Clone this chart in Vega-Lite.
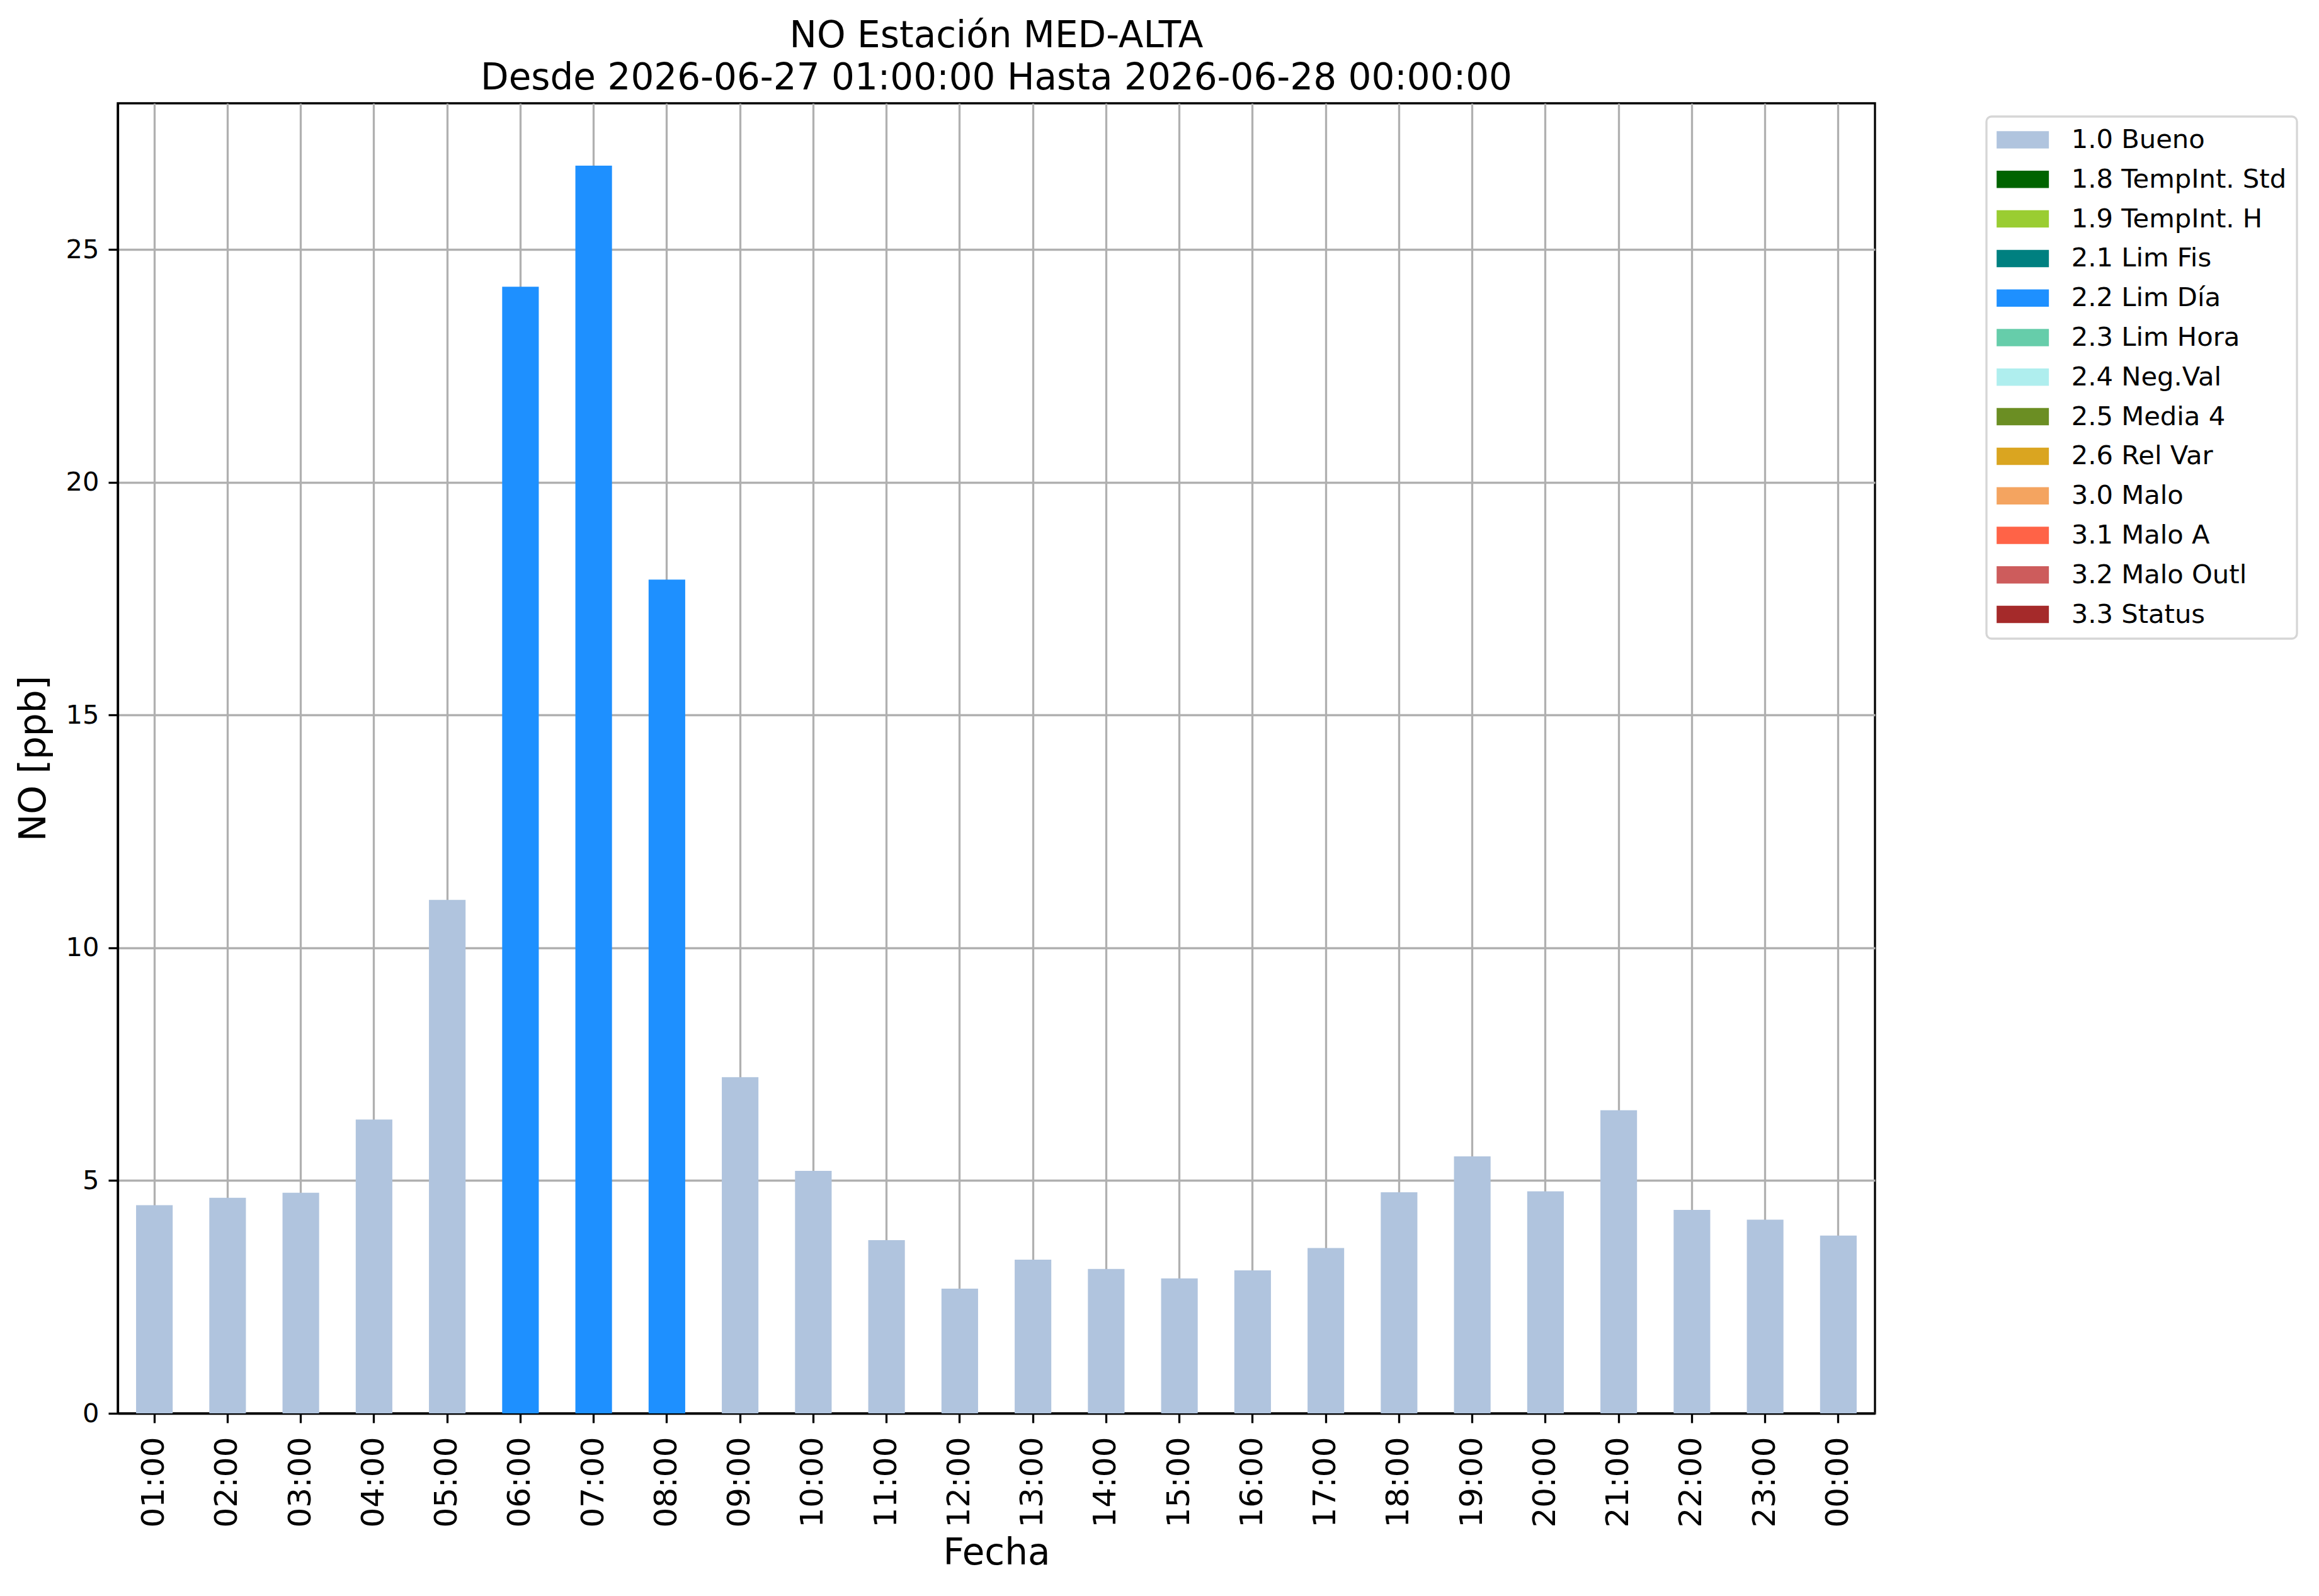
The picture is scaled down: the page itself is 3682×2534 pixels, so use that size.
{
  "$schema": "https://vega.github.io/schema/vega-lite/v6.json",
  "description": "NO Estación MED-ALTA, barras horarias coloreadas por calidad del dato.",
  "width": 2790,
  "height": 2080,
  "autosize": {"type": "none"},
  "padding": {"left": 187, "top": 164, "right": 705, "bottom": 290},
  "background": "white",
  "title": {
    "text": ["NO Estación MED-ALTA", "Desde 2026-06-27 01:00:00 Hasta 2026-06-28 00:00:00"],
    "fontSize": 58,
    "fontWeight": "normal",
    "font": "DejaVu Sans",
    "color": "black",
    "anchor": "middle",
    "lineHeight": 67,
    "offset": 10
  },
  "data": {
    "values": [
      {"Hora": "01:00", "NO": 4.47, "Calidad": "1.0 Bueno"},
      {"Hora": "02:00", "NO": 4.63, "Calidad": "1.0 Bueno"},
      {"Hora": "03:00", "NO": 4.74, "Calidad": "1.0 Bueno"},
      {"Hora": "04:00", "NO": 6.31, "Calidad": "1.0 Bueno"},
      {"Hora": "05:00", "NO": 11.03, "Calidad": "1.0 Bueno"},
      {"Hora": "06:00", "NO": 24.2, "Calidad": "2.2 Lim Día"},
      {"Hora": "07:00", "NO": 26.8, "Calidad": "2.2 Lim Día"},
      {"Hora": "08:00", "NO": 17.91, "Calidad": "2.2 Lim Día"},
      {"Hora": "09:00", "NO": 7.22, "Calidad": "1.0 Bueno"},
      {"Hora": "10:00", "NO": 5.21, "Calidad": "1.0 Bueno"},
      {"Hora": "11:00", "NO": 3.72, "Calidad": "1.0 Bueno"},
      {"Hora": "12:00", "NO": 2.68, "Calidad": "1.0 Bueno"},
      {"Hora": "13:00", "NO": 3.3, "Calidad": "1.0 Bueno"},
      {"Hora": "14:00", "NO": 3.1, "Calidad": "1.0 Bueno"},
      {"Hora": "15:00", "NO": 2.9, "Calidad": "1.0 Bueno"},
      {"Hora": "16:00", "NO": 3.07, "Calidad": "1.0 Bueno"},
      {"Hora": "17:00", "NO": 3.55, "Calidad": "1.0 Bueno"},
      {"Hora": "18:00", "NO": 4.75, "Calidad": "1.0 Bueno"},
      {"Hora": "19:00", "NO": 5.52, "Calidad": "1.0 Bueno"},
      {"Hora": "20:00", "NO": 4.77, "Calidad": "1.0 Bueno"},
      {"Hora": "21:00", "NO": 6.51, "Calidad": "1.0 Bueno"},
      {"Hora": "22:00", "NO": 4.37, "Calidad": "1.0 Bueno"},
      {"Hora": "23:00", "NO": 4.16, "Calidad": "1.0 Bueno"},
      {"Hora": "00:00", "NO": 3.82, "Calidad": "1.0 Bueno"}
    ]
  },
  "mark": {"type": "bar"},
  "encoding": {
    "x": {
      "field": "Hora",
      "type": "ordinal",
      "sort": null,
      "title": "Fecha",
      "scale": {"paddingInner": 0.5, "paddingOuter": 0.25},
      "axis": {
        "labelAngle": 270,
        "labelFontSize": 50,
        "labelPadding": 22,
        "titlePadding": 12,
        "bandPosition": 0.5
      }
    },
    "y": {
      "field": "NO",
      "type": "quantitative",
      "title": "NO [ppb]",
      "scale": {"domain": [0, 28.14], "nice": false, "zero": true},
      "axis": {
        "values": [0, 5, 10, 15, 20, 25],
        "labelFontSize": 41.7,
        "labelPadding": 15,
        "titlePadding": 20
      }
    },
    "color": {
      "field": "Calidad",
      "type": "nominal",
      "title": null,
      "scale": {
        "domain": [
          "1.0 Bueno", "1.8 TempInt. Std", "1.9 TempInt. H", "2.1 Lim Fis", "2.2 Lim Día",
          "2.3 Lim Hora", "2.4 Neg.Val", "2.5 Media 4", "2.6 Rel Var", "3.0 Malo",
          "3.1 Malo A", "3.2 Malo Outl", "3.3 Status"
        ],
        "range": [
          "#b0c4de", "#006400", "#9acd32", "#008080", "#1e90ff",
          "#66cdaa", "#afeeee", "#6b8e23", "#daa520", "#f4a460",
          "#ff6347", "#cd5c5c", "#a52a2a"
        ]
      },
      "legend": {
        "orient": "none",
        "legendX": 2967,
        "legendY": 21,
        "symbolType": "M-1.99,-0.66L1.99,-0.66L1.99,0.66L-1.99,0.66Z",
        "symbolSize": 1739,
        "symbolOffset": 20.65,
        "symbolStrokeWidth": 0,
        "symbolOpacity": 1,
        "labelFontSize": 41.7,
        "labelOffset": 56,
        "labelLimit": 2000,
        "labelColor": "black",
        "rowPadding": 19.8,
        "padding": 16,
        "strokeColor": "#d6d6d6",
        "fillColor": "white",
        "cornerRadius": 8
      }
    }
  },
  "config": {
    "font": "DejaVu Sans",
    "view": {"stroke": "black", "strokeWidth": 3.3},
    "axis": {
      "grid": true,
      "gridColor": "#b0b0b0",
      "gridWidth": 3.3,
      "gridOpacity": 1,
      "zindex": 1,
      "domainColor": "black",
      "domainWidth": 3.3,
      "tickColor": "black",
      "tickWidth": 3.3,
      "tickSize": 15,
      "labelColor": "black",
      "labelFont": "DejaVu Sans",
      "titleFont": "DejaVu Sans",
      "titleFontSize": 58,
      "titleFontWeight": "normal",
      "titleColor": "black"
    },
    "legend": {"strokeWidth": 3.3, "labelFont": "DejaVu Sans"}
  }
}
